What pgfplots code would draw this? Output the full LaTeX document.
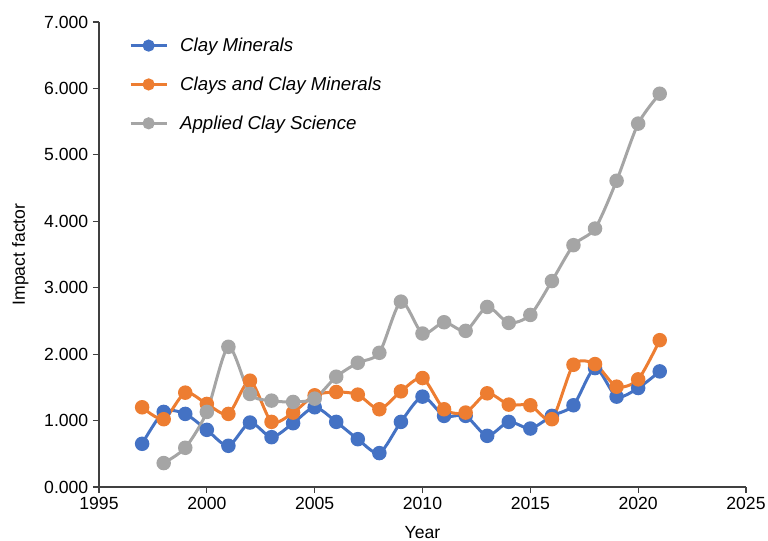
\documentclass[border=0pt]{standalone}
\usepackage{pgfplots}
\pgfplotsset{compat=1.18}
\usepackage{fontspec}
\setmainfont{Liberation Sans}
\definecolor{cblue}{HTML}{4472C4}
\definecolor{corange}{HTML}{ED7D31}
\definecolor{cgray}{HTML}{A5A5A5}
\begin{document}
\begin{tikzpicture}
\begin{axis}[
  scale only axis,
  width=485.25pt, height=348.75pt,
  xmin=1995, xmax=2025, ymin=0, ymax=7,
  xtick={1995,2000,...,2025},
  ytick={0,1,...,7},
  axis lines=left,
  axis line style={-, line width=0.8pt, black!75},
  tick style={black!75, line width=0.8pt},
  tick align=outside,
  major tick length=4.5pt,
  font=\fontsize{13.2}{15}\selectfont,
  /pgf/number format/assume math mode=true,
  x tick label style={/pgf/number format/1000 sep={}},
  y tick label style={/pgf/number format/.cd, fixed, fixed zerofill, precision=3},
  xlabel={Year},
  ylabel={Impact factor},
  every axis x label/.style={at={(axis description cs:0.5,0)}, anchor=center, yshift=-34pt},
  every axis y label/.style={at={(axis description cs:0,0.5)}, anchor=center, xshift=-59pt, rotate=90},
  legend style={draw=none, fill=none, at={(0.04,0.978)}, anchor=north west,
    font=\fontsize{14}{16}\selectfont\itshape, row sep=13.5pt, column sep=7pt},
  legend cell align=left,
  legend image code/.code={
    \draw[mark repeat=2,mark phase=2, mark size=3.4pt] plot coordinates {(0pt,0pt) (13.5pt,0pt) (27pt,0pt)};
  },
  every axis plot/.append style={line width=2.25pt, smooth, tension=0.45, mark=*, mark size=4.3pt},
  clip=false,
]
\addplot[cblue, mark options={fill=cblue, draw=cblue}] coordinates {
(1997,0.65) (1998,1.13) (1999,1.10) (2000,0.86) (2001,0.62) (2002,0.97) (2003,0.75) (2004,0.96) (2005,1.20)
(2006,0.98) (2007,0.72) (2008,0.51) (2009,0.98) (2010,1.36) (2011,1.07) (2012,1.07) (2013,0.77) (2014,0.98)
(2015,0.88) (2016,1.07) (2017,1.23) (2018,1.79) (2019,1.36) (2020,1.49) (2021,1.74)};
\addlegendentry{Clay Minerals}
\addplot[corange, mark options={fill=corange, draw=corange}] coordinates {
(1997,1.20) (1998,1.02) (1999,1.42) (2000,1.25) (2001,1.10) (2002,1.60) (2003,0.98) (2004,1.12) (2005,1.38)
(2006,1.43) (2007,1.39) (2008,1.17) (2009,1.44) (2010,1.64) (2011,1.17) (2012,1.12) (2013,1.41) (2014,1.24)
(2015,1.23) (2016,1.02) (2017,1.84) (2018,1.85) (2019,1.51) (2020,1.62) (2021,2.21)};
\addlegendentry{Clays and Clay Minerals}
\addplot[cgray, mark options={fill=cgray, draw=cgray}] coordinates {
(1998,0.36) (1999,0.59) (2000,1.13) (2001,2.11) (2002,1.40) (2003,1.30) (2004,1.28) (2005,1.33)
(2006,1.66) (2007,1.87) (2008,2.02) (2009,2.79) (2010,2.31) (2011,2.48) (2012,2.35) (2013,2.71) (2014,2.47)
(2015,2.59) (2016,3.10) (2017,3.64) (2018,3.89) (2019,4.61) (2020,5.47) (2021,5.92)};
\addlegendentry{Applied Clay Science}
\end{axis}
\pgfresetboundingbox
\path[use as bounding box] ([xshift=-74.25pt,yshift=-40.5pt]current axis.south west) rectangle ([xshift=16.5pt,yshift=16.5pt]current axis.north east);
\end{tikzpicture}
\end{document}
